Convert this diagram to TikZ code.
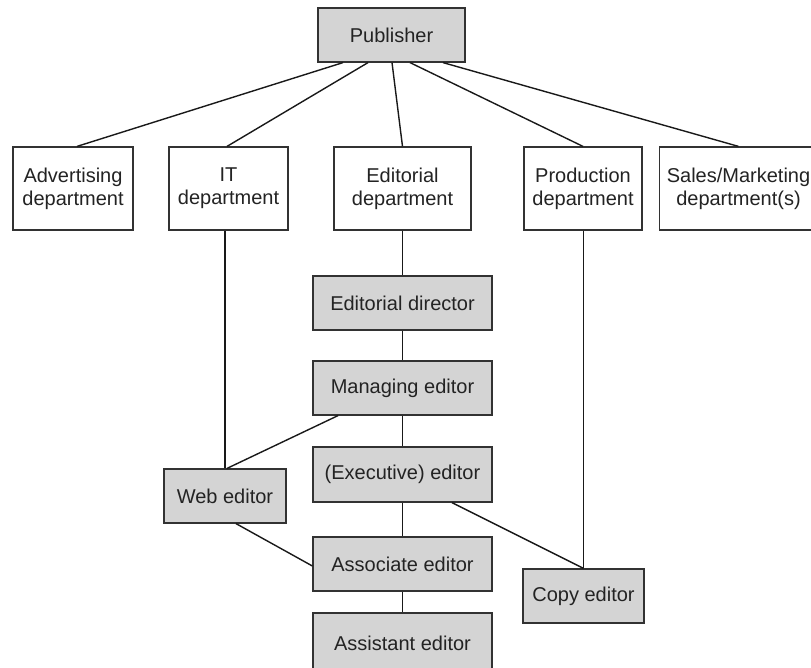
\documentclass[tikz,border=0pt]{standalone}
\usepackage{fontspec}
\setmainfont{Liberation Sans}
\definecolor{boxgray}{RGB}{212,212,212}
\definecolor{edgegray}{RGB}{50,50,50}
\definecolor{textgray}{RGB}{35,35,35}
\begin{document}
\begin{tikzpicture}[x=1pt,y=-1pt,
  box/.style={draw=edgegray, line width=1.2pt, rectangle, inner sep=0pt, align=center,
    font=\fontsize{20}{23}\selectfont, text=textgray},
  dept/.style={box, fill=white, minimum height=83pt},
  role/.style={box, fill=boxgray, minimum height=54pt},
  link/.style={line width=1.4pt, draw=black!90}]
\useasboundingbox (0,0) rectangle (811,667);
% top
\node[role, minimum width=147pt] (pub) at (391.5,35) {Publisher};
% departments
\node[dept, minimum width=120pt] (adv) at (73,188.5) {Advertising\\department};
\node[dept, minimum width=119pt] (it) at (228.5,188.5) {IT\\department};
\node[dept, minimum width=137pt] (edit) at (402.5,188.5) {Editorial\\department};
\node[dept, minimum width=118pt] (prod) at (583,188.5) {Production\\department};
\node[dept, minimum width=158pt] (sales) at (738.5,188.5) {Sales/Marketing\\department(s)};
% editorial chain
\node[role, minimum width=179pt] (ed) at (402.5,303) {Editorial director};
\node[role, minimum width=179pt] (me) at (402.5,388) {Managing editor};
\node[role, minimum width=179pt, minimum height=55pt] (ee) at (402.5,474.5) {(Executive) editor};
\node[role, minimum width=179pt] (ae) at (402.5,564) {Associate editor};
\node[role, minimum width=179pt, minimum height=60pt] (ase) at (402.5,643) {Assistant editor};
\node[role, minimum width=122pt] (web) at (225,496) {Web editor};
\node[role, minimum width=121pt] (copy) at (583.5,596) {Copy editor};
% connectors from publisher
\draw[link] ([xshift=-48.5pt]pub.south) -- ([xshift=4pt]adv.north);
\draw[link] ([xshift=-23.5pt]pub.south) -- ([xshift=-1.5pt]it.north);
\draw[link] ([xshift=0.5pt]pub.south) -- (edit.north);
\draw[link] ([xshift=18.5pt]pub.south) -- (prod.north);
\draw[link] ([xshift=51.5pt]pub.south) -- (sales.north);
% chain
\draw[link] (edit.south) -- (ed.north);
\draw[link] (ed.south) -- (me.north);
\draw[link] (me.south) -- (ee.north);
\draw[link] (ee.south) -- (ae.north);
\draw[link] (ae.south) -- (ase.north);
% cross links
\draw[link] (web.north |- it.south) -- (web.north);
\draw[link] ([xshift=-64.5pt]me.south) -- ([xshift=2pt]web.north);
\draw[link] ([xshift=11pt]web.south) -- ([yshift=-2pt]ae.west);
\draw[link] ([xshift=49.5pt]ee.south) -- (copy.north);
\draw[link] (copy.north |- prod.south) -- (copy.north);
\end{tikzpicture}
\end{document}
